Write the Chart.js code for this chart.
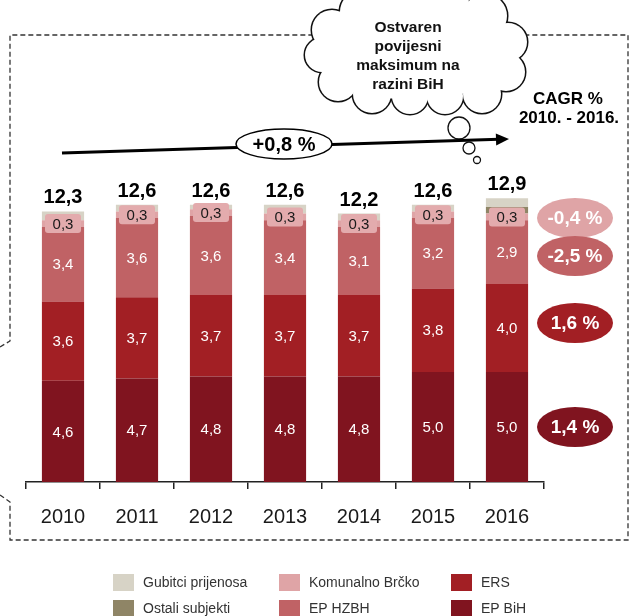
<!DOCTYPE html>
<html>
<head>
<meta charset="utf-8">
<script src="https://cdn.jsdelivr.net/npm/chart.js@4/dist/chart.umd.min.js"></script>
<style>
  html, body { margin: 0; padding: 0; background: #fff; }
</style>
</head>
<body>
<canvas id="chart" width="635" height="616"></canvas>
<script>
// Potrošnja po subjektima, 2010. - 2016.
const years = ["2010", "2011", "2012", "2013", "2014", "2015", "2016"];
const epBiH = [4.6, 4.7, 4.8, 4.8, 4.8, 5.0, 5.0];
const ers = [3.6, 3.7, 3.7, 3.7, 3.7, 3.8, 4.0];
const epHzbh = [3.4, 3.6, 3.6, 3.4, 3.1, 3.2, 2.9];
const brcko = [0.3, 0.3, 0.3, 0.3, 0.3, 0.3, 0.3];
const ostali = [0, 0, 0, 0, 0, 0, 0.3];
const gubitci = [0.4, 0.3, 0.2, 0.4, 0.3, 0.3, 0.4];
const totals = [12.3, 12.6, 12.6, 12.6, 12.2, 12.6, 12.9];
const cagr = ["-0,4 %", "-2,5 %", "1,6 %", "1,4 %"];
const trend = "+0,8 %";

const FONT = "'Liberation Sans', Arial, sans-serif";
const fmt = (v) => v.toFixed(1).replace(".", ",");

const colors = {
  epBiH: "#80141f",
  ers: "#a21f24",
  epHzbh: "#c06265",
  brcko: "#dfa4a6",
  ostali: "#8f8566",
  gubitci: "#d7d3c6"
};

// value labels inside the segments, the 0,3 badge and the totals
const labelPlugin = {
  id: "labels",
  afterDatasetsDraw(chart) {
    const ctx = chart.ctx;
    ctx.save();
    ctx.textAlign = "center";
    [0, 1, 2].forEach((di) => {
      const meta = chart.getDatasetMeta(di);
      const data = chart.data.datasets[di].data;
      meta.data.forEach((bar, i) => {
        ctx.fillStyle = "#ffffff";
        ctx.font = "15px " + FONT;
        ctx.textBaseline = "middle";
        ctx.fillText(fmt(data[i]), bar.x, (bar.y + bar.base) / 2 + 1);
      });
    });
    const bm = chart.getDatasetMeta(3);
    bm.data.forEach((bar, i) => {
      const cy = (bar.y + bar.base) / 2;
      ctx.fillStyle = "#e3abad";
      ctx.beginPath();
      ctx.roundRect(bar.x - 18, cy - 9.5, 36, 19, 3);
      ctx.fill();
      ctx.fillStyle = "#1a1a1a";
      ctx.font = "15px " + FONT;
      ctx.textBaseline = "middle";
      ctx.fillText(fmt(brcko[i]), bar.x, cy + 1);
    });
    const top = chart.getDatasetMeta(5);
    top.data.forEach((bar, i) => {
      ctx.fillStyle = "#000";
      ctx.font = "bold 20px " + FONT;
      ctx.textBaseline = "alphabetic";
      ctx.fillText(fmt(totals[i]), bar.x, chart.scales.y.getPixelForValue(totals[i]) - 8);
    });
    ctx.restore();
  }
};

function ellipseLabel(ctx, x, y, rx, ry, fill, stroke, text, textColor, font) {
  ctx.beginPath();
  ctx.ellipse(x, y, rx, ry, 0, 0, Math.PI * 2);
  ctx.fillStyle = fill;
  ctx.fill();
  if (stroke) {
    ctx.lineWidth = 1.5;
    ctx.strokeStyle = stroke;
    ctx.stroke();
  }
  ctx.fillStyle = textColor;
  ctx.font = font;
  ctx.textAlign = "center";
  ctx.textBaseline = "middle";
  ctx.fillText(text, x, y + 1);
}

// frame, cloud, trend arrow, CAGR column and legend
const decorPlugin = {
  id: "decor",
  afterDraw(chart) {
    const ctx = chart.ctx;
    ctx.save();

    // dashed frame
    ctx.strokeStyle = "#333";
    ctx.lineWidth = 1.3;
    ctx.setLineDash([5, 3]);
    ctx.beginPath();
    ctx.moveTo(0, 347);
    ctx.lineTo(10, 341);
    ctx.lineTo(10, 35);
    ctx.lineTo(628, 35);
    ctx.lineTo(628, 540);
    ctx.lineTo(10, 540);
    ctx.lineTo(10, 502);
    ctx.lineTo(0, 495);
    ctx.stroke();
    ctx.setLineDash([]);

    // cloud
    const bumps = [
      [332, 30, 20], [362, 12, 22], [402, 4, 24], [445, 4, 24], [485, 16, 22],
      [508, 42, 19], [506, 72, 19], [482, 94, 19], [445, 96, 18], [410, 96, 18],
      [372, 94, 19], [338, 82, 19], [322, 55, 17]
    ];
    ctx.strokeStyle = "#111";
    ctx.lineWidth = 3;
    bumps.forEach(([x, y, r]) => {
      ctx.beginPath();
      ctx.arc(x, y, r, 0, Math.PI * 2);
      ctx.stroke();
    });
    ctx.fillStyle = "#fff";
    bumps.forEach(([x, y, r]) => {
      ctx.beginPath();
      ctx.arc(x, y, r, 0, Math.PI * 2);
      ctx.fill();
    });
    ctx.beginPath();
    ctx.ellipse(415, 55, 92, 45, 0, 0, Math.PI * 2);
    ctx.fill();
    ctx.fillStyle = "#111";
    ctx.font = "bold 15.5px " + FONT;
    ctx.textAlign = "center";
    ctx.textBaseline = "middle";
    ["Ostvaren", "povijesni", "maksimum na", "razini BiH"].forEach((t, i) => {
      ctx.fillText(t, 408, 28 + i * 19);
    });

    // thought bubbles
    ctx.lineWidth = 1.3;
    [[459, 128, 11], [469, 148, 6], [477, 160, 3.5]].forEach(([x, y, r]) => {
      ctx.beginPath();
      ctx.arc(x, y, r, 0, Math.PI * 2);
      ctx.fillStyle = "#fff";
      ctx.fill();
      ctx.strokeStyle = "#111";
      ctx.stroke();
    });

    // trend arrow
    const x0 = 62, y0 = 153, x1 = 509, y1 = 139;
    const a = Math.atan2(y1 - y0, x1 - x0);
    ctx.strokeStyle = "#000";
    ctx.lineWidth = 3;
    ctx.beginPath();
    ctx.moveTo(x0, y0);
    ctx.lineTo(x1 - 10 * Math.cos(a), y1 - 10 * Math.sin(a));
    ctx.stroke();
    ctx.fillStyle = "#000";
    ctx.beginPath();
    ctx.moveTo(x1, y1);
    ctx.lineTo(x1 - 13 * Math.cos(a) + 6 * Math.sin(a), y1 - 13 * Math.sin(a) - 6 * Math.cos(a));
    ctx.lineTo(x1 - 13 * Math.cos(a) - 6 * Math.sin(a), y1 - 13 * Math.sin(a) + 6 * Math.cos(a));
    ctx.closePath();
    ctx.fill();
    ellipseLabel(ctx, 284, 144, 48, 15, "#fff", "#000", trend, "#000", "bold 20px " + FONT);

    // CAGR column
    ctx.fillStyle = "#000";
    ctx.font = "bold 17px " + FONT;
    ctx.textAlign = "center";
    ctx.textBaseline = "middle";
    ctx.fillText("CAGR %", 568, 99);
    ctx.fillText("2010. - 2016.", 569, 118);
    const cagrY = [218, 256, 323, 427];
    const cagrFill = [colors.brcko, colors.epHzbh, colors.ers, colors.epBiH];
    cagr.forEach((t, i) => {
      ellipseLabel(ctx, 575, cagrY[i], 38, 20, cagrFill[i], null, t, "#fff", "bold 19px " + FONT);
    });

    // legend, column by column
    const order = [5, 4, 3, 2, 1, 0];
    const colX = [113, 279, 451];
    const rowY = [574, 600];
    order.forEach((di, k) => {
      const ds = chart.data.datasets[di];
      const x = colX[Math.floor(k / 2)];
      const y = rowY[k % 2];
      ctx.fillStyle = ds.backgroundColor;
      ctx.fillRect(x, y, 21, 17);
      ctx.fillStyle = "#333";
      ctx.font = "14px " + FONT;
      ctx.textAlign = "left";
      ctx.textBaseline = "middle";
      ctx.fillText(ds.label, x + 30, y + 9);
    });

    ctx.restore();
  }
};

new Chart(document.getElementById("chart"), {
  type: "bar",
  data: {
    labels: years,
    datasets: [
      { label: "EP BiH", data: epBiH, backgroundColor: colors.epBiH },
      { label: "ERS", data: ers, backgroundColor: colors.ers },
      { label: "EP HZBH", data: epHzbh, backgroundColor: colors.epHzbh },
      { label: "Komunalno Brčko", data: brcko, backgroundColor: colors.brcko },
      { label: "Ostali subjekti", data: ostali, backgroundColor: colors.ostali },
      { label: "Gubitci prijenosa", data: gubitci, backgroundColor: colors.gubitci }
    ]
  },
  options: {
    responsive: false,
    animation: false,
    devicePixelRatio: 1,
    datasets: { bar: { categoryPercentage: 1, barPercentage: 0.57, borderWidth: 0 } },
    layout: { padding: { left: 26, right: 91, top: 152, bottom: 0 } },
    plugins: { legend: { display: false }, tooltip: { enabled: false } },
    scales: {
      x: {
        stacked: true,
        grid: { display: true, offset: true, drawOnChartArea: false, drawTicks: true, tickLength: 7, color: "#222", lineWidth: 1.5 },
        border: { display: true, color: "#222", width: 1.5 },
        ticks: { color: "#1a1a1a", font: { family: FONT, size: 20 }, padding: 16 },
        afterFit: (s) => { s.height = 134; }
      },
      y: { stacked: true, display: false, min: 0, max: 15 }
    }
  },
  plugins: [labelPlugin, decorPlugin]
});
</script>
</body>
</html>
